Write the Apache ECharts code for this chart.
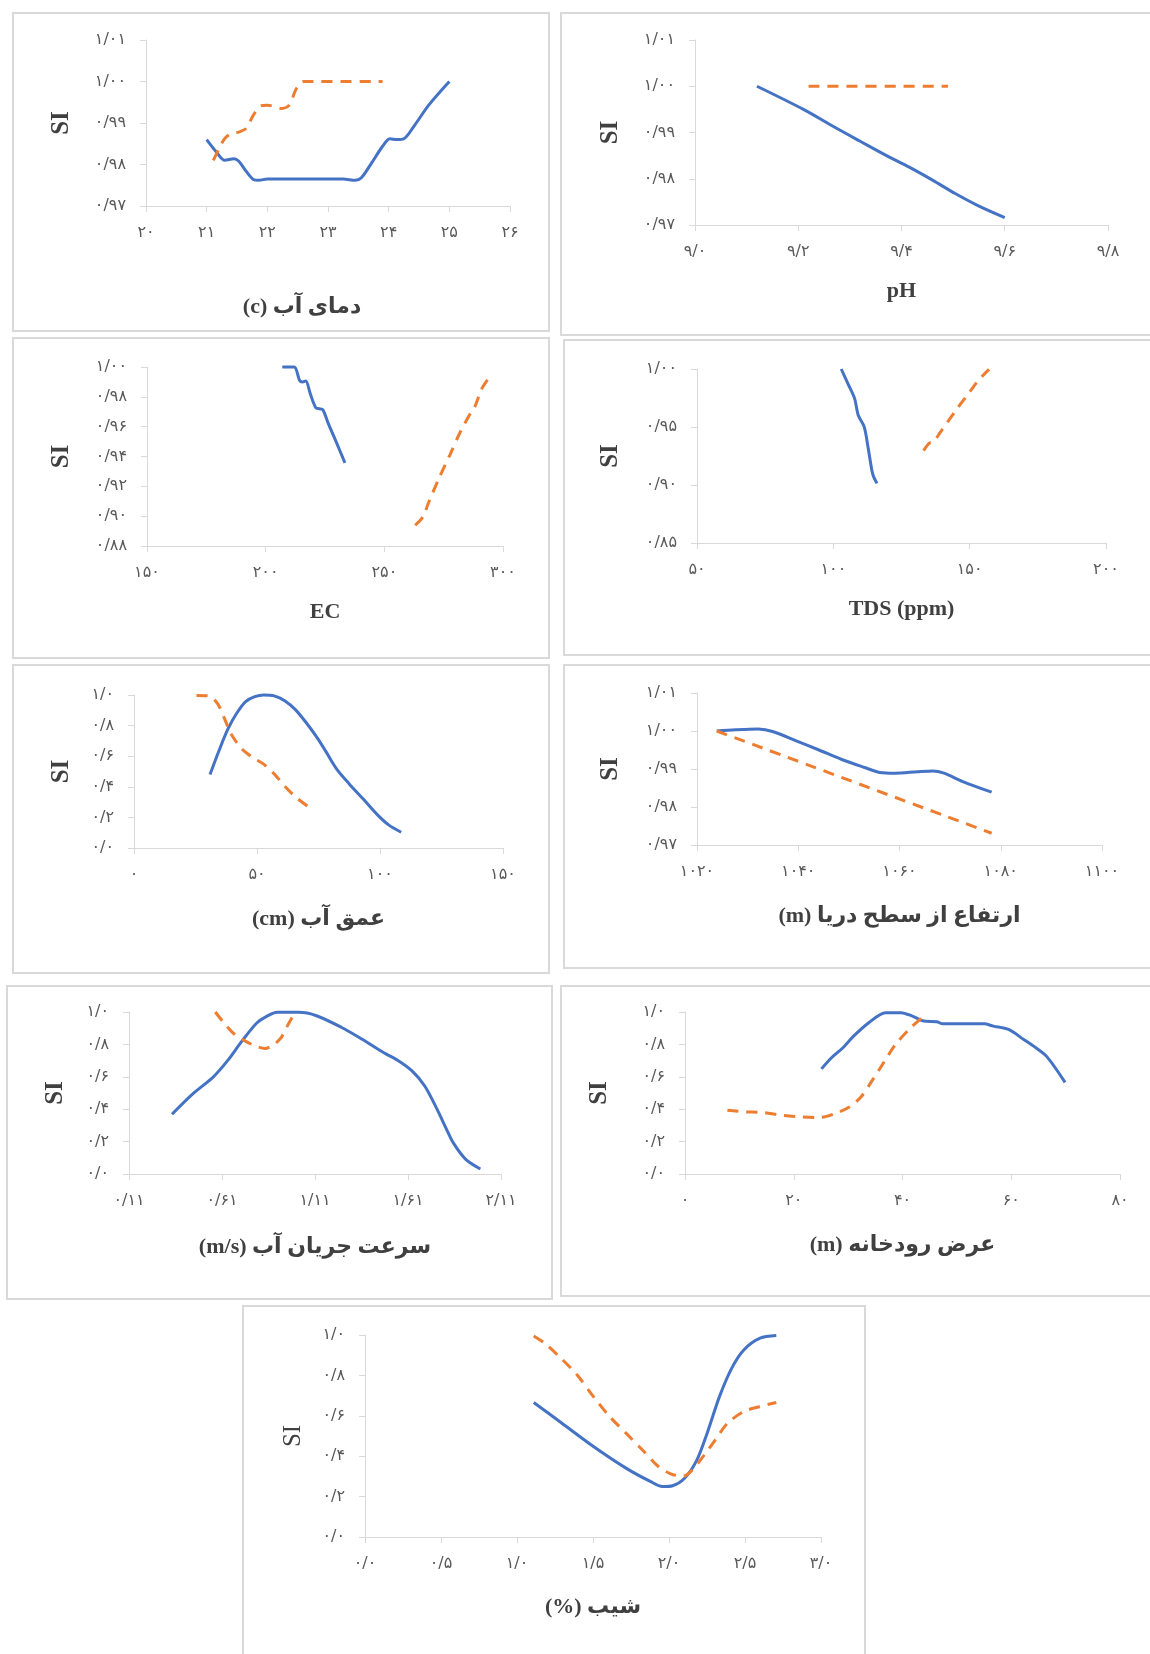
<!DOCTYPE html>
<html><head><meta charset="utf-8">
<script src="https://cdn.jsdelivr.net/npm/echarts@6/dist/echarts.min.js"></script>
<style>html,body{margin:0;padding:0;background:#fff}#c{width:1150px;height:1654px}</style>
</head><body><div id="c"></div>
<script>
// ---------------- DATA ----------------
// 1. water temperature
const tempBlue = [[21.0,0.9860],[21.15,0.9832],[21.3,0.9810],[21.45,0.9814],[21.53,0.9808],[21.65,0.9784],[21.77,0.9764],[21.86,0.9762],[22.0,0.9765],[22.3,0.9765],[23.25,0.9765],[23.45,0.9762],[23.55,0.9768],[23.72,0.9804],[23.9,0.9844],[24.02,0.9862],[24.14,0.9860],[24.25,0.9862],[24.43,0.9895],[24.66,0.9943],[25.0,1.0]];
const tempOrange = [[21.11,0.9810],[21.21,0.9840],[21.3,0.9863],[21.41,0.9875],[21.53,0.9878],[21.65,0.9887],[21.77,0.9919],[21.89,0.9941],[22.0,0.9943],[22.24,0.9935],[22.36,0.9943],[22.48,0.9983],[22.6,1.0],[23.9,1.0]];
const tempXTicks = [20,21,22,23,24,25,26];
const tempXLabels = ['۲۰','۲۱','۲۲','۲۳','۲۴','۲۵','۲۶'];
const siYTicks1 = [0.97,0.98,0.99,1.00,1.01];
const siYLabels1 = ['۰/۹۷','۰/۹۸','۰/۹۹','۱/۰۰','۱/۰۱'];
// 2. pH
const phBlue = [[9.12,1.0],[9.21,0.995],[9.276,0.9908],[9.32,0.9881],[9.371,0.985],[9.415,0.9825],[9.46,0.9797],[9.504,0.9768],[9.548,0.9742],[9.6,0.9716]];
const phOrange = [[9.22,1.0],[9.49,1.0]];
const phXTicks = [9.0,9.2,9.4,9.6,9.8];
const phXLabels = ['۹/۰','۹/۲','۹/۴','۹/۶','۹/۸'];
// 3. EC
const ecBlue = [[207,1.0],[212,1.0],[214.3,0.991],[215.5,0.990],[216.9,0.9906],[218.8,0.982],[221.1,0.9727],[222.6,0.972],[224.1,0.9714],[226.4,0.962],[229.4,0.951],[233.4,0.9357]];
const ecOrange = [[263,0.8939],[266.3,0.8996],[268.5,0.9085],[273,0.9253],[277.6,0.941],[282,0.9564],[286.6,0.9698],[288.1,0.9732],[291.1,0.9855],[294.4,0.9933]];
const ecXTicks = [150,200,250,300];
const ecXLabels = ['۱۵۰','۲۰۰','۲۵۰','۳۰۰'];
const ecYTicks = [0.88,0.90,0.92,0.94,0.96,0.98,1.00];
const ecYLabels = ['۰/۸۸','۰/۹۰','۰/۹۲','۰/۹۴','۰/۹۶','۰/۹۸','۱/۰۰'];
// 4. TDS
const tdsBlue = [[102.9,1.0],[105.3,0.9876],[107.8,0.9747],[109.1,0.9603],[111.3,0.9503],[112.7,0.933],[114.1,0.913],[114.8,0.907],[116,0.9014]];
const tdsOrange = [[133.1,0.9296],[135.2,0.936],[136.6,0.9368],[139.4,0.946],[145,0.9646],[150.1,0.9805],[153.3,0.9905],[157.1,0.9997]];
const tdsXTicks = [50,100,150,200];
const tdsXLabels = ['۵۰','۱۰۰','۱۵۰','۲۰۰'];
const tdsYTicks = [0.85,0.90,0.95,1.00];
const tdsYLabels = ['۰/۸۵','۰/۹۰','۰/۹۵','۱/۰۰'];
// 5. water depth
const depthBlue = [[30.9,0.48],[34.5,0.634],[38.2,0.778],[41.8,0.882],[45.4,0.957],[49.1,0.989],[52.7,1.0],[57.0,0.994],[61.4,0.961],[65.7,0.903],[70.1,0.817],[74.5,0.72],[78.1,0.628],[82.4,0.516],[87.5,0.419],[93.3,0.318],[99.1,0.215],[103.5,0.151],[108.6,0.103]];
const depthOrange = [[25.4,0.996],[30.2,0.994],[33.9,0.946],[36.7,0.849],[39.6,0.742],[44,0.645],[48.3,0.591],[52.7,0.548],[57,0.484],[61.4,0.402],[65.7,0.333],[71.3,0.265]];
const depthXTicks = [0,50,100,150];
const depthXLabels = ['۰','۵۰','۱۰۰','۱۵۰'];
const siYTicks2 = [0,0.2,0.4,0.6,0.8,1.0];
const siYLabels2 = ['۰/۰','۰/۲','۰/۴','۰/۶','۰/۸','۱/۰'];
// 6. elevation
const elevBlue = [[1023.9,1.0],[1027.6,1.0003],[1032.1,1.0005],[1035.1,0.9998],[1039.6,0.9974],[1044.1,0.995],[1048.6,0.9925],[1053.1,0.9904],[1056.1,0.9891],[1059.1,0.9889],[1063.6,0.9893],[1066.6,0.9895],[1068.8,0.9889],[1072.5,0.9867],[1078.2,0.9839]];
const elevOrange = [[1023.9,1.0],[1078.2,0.9731]];
const elevXTicks = [1020,1040,1060,1080,1100];
const elevXLabels = ['۱۰۲۰','۱۰۴۰','۱۰۶۰','۱۰۸۰','۱۱۰۰'];
// 7. flow velocity
const velBlue = [[0.341,0.369],[0.45,0.492],[0.564,0.6],[0.641,0.701],[0.717,0.82],[0.797,0.932],[0.85,0.973],[0.908,0.998],[1.022,0.998],[1.118,0.977],[1.251,0.906],[1.366,0.83],[1.48,0.748],[1.556,0.701],[1.633,0.635],[1.7,0.543],[1.766,0.4],[1.814,0.283],[1.852,0.195],[1.919,0.092],[1.999,0.031]];
const velOrange = [[0.574,1.0],[0.621,0.932],[0.679,0.861],[0.736,0.82],[0.784,0.793],[0.841,0.775],[0.889,0.8],[0.927,0.84],[0.965,0.922],[1.003,1.0]];
const velXTicks = [0.11,0.61,1.11,1.61,2.11];
const velXLabels = ['۰/۱۱','۰/۶۱','۱/۱۱','۱/۶۱','۲/۱۱'];
// 8. river width
const widthBlue = [[25.1,0.649],[26.9,0.716],[29.0,0.778],[31.0,0.851],[33.8,0.934],[36.9,0.996],[39.7,0.996],[41.8,0.975],[43.9,0.944],[46.3,0.94],[47.4,0.927],[55.0,0.927],[56.7,0.913],[59.5,0.892],[62.3,0.83],[64.4,0.782],[66.5,0.726],[69.9,0.566]];
const widthOrange = [[7.8,0.394],[10.9,0.384],[14.4,0.38],[17.8,0.363],[21.3,0.353],[24.8,0.349],[27.6,0.373],[30.3,0.415],[32.4,0.477],[34.5,0.581],[36.6,0.691],[38.7,0.799],[41.5,0.902],[43.9,0.975]];
const widthXTicks = [0,20,40,60,80];
const widthXLabels = ['۰','۲۰','۴۰','۶۰','۸۰'];
// 9. slope
const slopeBlue = [[1.11,0.666],[1.289,0.567],[1.503,0.448],[1.717,0.341],[1.877,0.275],[1.957,0.25],[2.024,0.254],[2.104,0.292],[2.184,0.382],[2.251,0.514],[2.332,0.695],[2.412,0.835],[2.492,0.926],[2.599,0.984],[2.706,0.997]];
const slopeOrange = [[1.11,0.995],[1.182,0.959],[1.289,0.885],[1.396,0.802],[1.503,0.695],[1.61,0.596],[1.717,0.514],[1.824,0.432],[1.93,0.349],[2.011,0.313],[2.091,0.3],[2.144,0.325],[2.225,0.399],[2.305,0.481],[2.385,0.563],[2.492,0.621],[2.599,0.646],[2.706,0.666]];
const slopeXTicks = [0,0.5,1.0,1.5,2.0,2.5,3.0];
const slopeXLabels = ['۰/۰','۰/۵','۱/۰','۱/۵','۲/۰','۲/۵','۳/۰'];

const xTitles = ['(c) دمای آب','pH','EC','TDS (ppm)','(cm) عمق آب','(m) ارتفاع از سطح دریا','(m/s) سرعت جریان آب','(m) عرض رودخانه','(%) شیب'];

// ---------------- LAYOUT ----------------
const panels = [
  {blue:tempBlue, orange:tempOrange, xt:tempXTicks, xl:tempXLabels, yt:siYTicks1, yl:siYLabels1},
  {blue:phBlue, orange:phOrange, xt:phXTicks, xl:phXLabels, yt:siYTicks1, yl:siYLabels1},
  {blue:ecBlue, orange:ecOrange, xt:ecXTicks, xl:ecXLabels, yt:ecYTicks, yl:ecYLabels},
  {blue:tdsBlue, orange:tdsOrange, xt:tdsXTicks, xl:tdsXLabels, yt:tdsYTicks, yl:tdsYLabels},
  {blue:depthBlue, orange:depthOrange, xt:depthXTicks, xl:depthXLabels, yt:siYTicks2, yl:siYLabels2},
  {blue:elevBlue, orange:elevOrange, xt:elevXTicks, xl:elevXLabels, yt:siYTicks1, yl:siYLabels1},
  {blue:velBlue, orange:velOrange, xt:velXTicks, xl:velXLabels, yt:siYTicks2, yl:siYLabels2},
  {blue:widthBlue, orange:widthOrange, xt:widthXTicks, xl:widthXLabels, yt:siYTicks2, yl:siYLabels2},
  {blue:slopeBlue, orange:slopeOrange, xt:slopeXTicks, xl:slopeXLabels, yt:siYTicks2, yl:siYLabels2}
];
// box [x,y,w,h], grid [left,top,width,height], xGap, yGap, siBold, title shift (right padding)
const layout = [
  {box:[13,13,536,318], grid:[146,40,364,166], xGap:90, yGap:72, siBold:true, tpad:52},
  {box:[561,13,600,322], grid:[695,40,413,185], xGap:55, yGap:72, siBold:true, tpad:0},
  {box:[13,338,536,320], grid:[147,367,356,179], xGap:55, yGap:73, siBold:true, tpad:0},
  {box:[564,340,600,315], grid:[697,369,409,174], xGap:55, yGap:74, siBold:true, tpad:0},
  {box:[13,665,536,308], grid:[134,695,369,153], xGap:60, yGap:60, siBold:true, tpad:0},
  {box:[564,665,600,303], grid:[697,693,405,152], xGap:60, yGap:74, siBold:true, tpad:0},
  {box:[7,986,545,313], grid:[129,1012,372,162], xGap:62, yGap:61, siBold:true, tpad:0},
  {box:[561,986,600,310], grid:[685,1012,435,162], xGap:60, yGap:73, siBold:true, tpad:0},
  {box:[243,1306,622,360], grid:[365,1335,456,202], xGap:59, yGap:59, siBold:false, tpad:0}
];

const BLUE = '#4472C4', ORANGE = '#ED7D31', AXIS = '#d9d9d9';
const tickFont = "'DejaVu Sans', sans-serif";
const titleFont = "'Liberation Serif', 'DejaVu Sans', serif";

function labelFor(ticks, labels) {
  return function (v) {
    let best = 0, bd = Infinity;
    ticks.forEach((t, i) => { const d = Math.abs(t - v); if (d < bd) { bd = d; best = i; } });
    return bd < 1e-6 * Math.max(1, Math.abs(v)) + 1e-9 ? labels[best] : '';
  };
}

const grid = [], xAxis = [], yAxis = [], series = [], graphic = [];
panels.forEach((p, i) => {
  const L = layout[i];
  grid.push({left:L.grid[0], top:L.grid[1], width:L.grid[2], height:L.grid[3], containLabel:false, outerBoundsMode:'none'});
  const n = p.xt.length, m = p.yt.length;
  xAxis.push({
    type:'value', gridIndex:i, min:p.xt[0], max:p.xt[n-1], interval:(p.xt[n-1]-p.xt[0])/(n-1),
    axisLine:{show:true, onZero:false, lineStyle:{color:AXIS, width:1}},
    axisTick:{show:true, length:6, customValues:p.xt, lineStyle:{color:AXIS}},
    axisLabel:{customValues:p.xt, formatter:labelFor(p.xt, p.xl), margin:19, color:'#595959', fontSize:16, fontFamily:tickFont},
    splitLine:{show:false},
    name:xTitles[i], nameLocation:'middle', nameGap:L.xGap,
    nameTextStyle:{fontFamily:titleFont, fontWeight:'bold', fontSize:22, color:'#404040', padding:[0, L.tpad, 0, 0]}
  });
  yAxis.push({
    type:'value', gridIndex:i, min:p.yt[0], max:p.yt[m-1], interval:(p.yt[m-1]-p.yt[0])/(m-1),
    axisLine:{show:true, onZero:false, lineStyle:{color:AXIS, width:1}},
    axisTick:{show:true, length:6, customValues:p.yt, lineStyle:{color:AXIS}},
    axisLabel:{customValues:p.yt, formatter:labelFor(p.yt, p.yl), margin:20, color:'#595959', fontSize:16, fontFamily:tickFont},
    splitLine:{show:false},
    name:'SI', nameLocation:'middle', nameGap:L.yGap,
    nameTextStyle:{fontFamily:titleFont, fontWeight:L.siBold ? 'bold' : 'normal', fontSize:25, color:'#404040'}
  });
  series.push({type:'line', xAxisIndex:i, yAxisIndex:i, data:p.blue, smooth:0.3, showSymbol:false, clip:false,
    lineStyle:{color:BLUE, width:3}, z:2});
  series.push({type:'line', xAxisIndex:i, yAxisIndex:i, data:p.orange, smooth:0.3, showSymbol:false, clip:false,
    lineStyle:{color:ORANGE, width:3, type:[11,8]}, z:3});
  graphic.push({type:'rect', silent:true, z:-10, shape:{x:L.box[0], y:L.box[1], width:L.box[2], height:L.box[3]},
    style:{fill:'none', stroke:'#d9d9d9', lineWidth:2}});
});

const chart = echarts.init(document.getElementById('c'), null, {renderer:'canvas'});
chart.setOption({animation:false, backgroundColor:'#fff', grid, xAxis, yAxis, series, graphic});
</script>
</body></html>
